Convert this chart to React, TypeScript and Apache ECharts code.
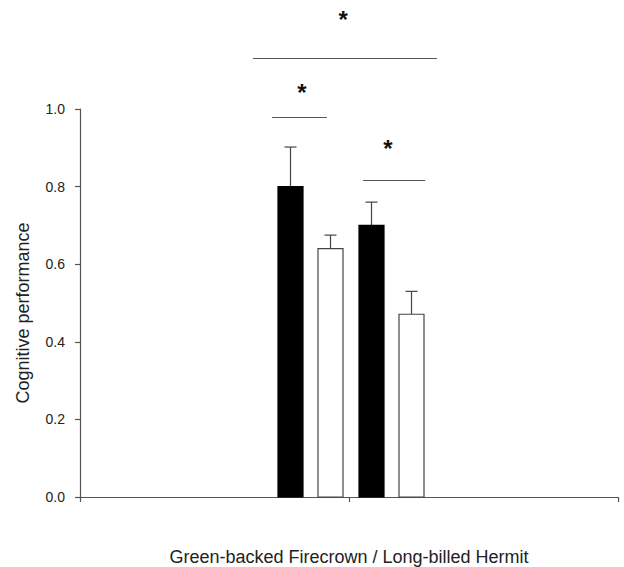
import React, { useEffect, useRef } from "react";
import * as echarts from "echarts";

const xAxisTitle = "Green-backed Firecrown / Long-billed Hermit";
const yAxisTitle = "Cognitive performance";
const yTickLabels = ["0.0", "0.2", "0.4", "0.6", "0.8", "1.0"];

const filledBarX = [0.78, 1.08];
const filledBarMean = [0.8, 0.7];
const filledBarErrTop = [0.902, 0.76];

const openBarX = [0.93, 1.23];
const openBarMean = [0.64, 0.471];
const openBarErrTop = [0.675, 0.53];

const sigStartX = [0.643, 0.714, 1.052];
const sigEndX = [1.327, 0.918, 1.283];
const sigLineY = [1.131, 0.979, 0.817];
const sigStarX = [0.978, 0.825, 1.145];
const sigStarY = [1.245, 1.057, 0.912];
const sigLabel = ["*", "*", "*"];

const FONT = "'Liberation Sans', Arial, Helvetica, sans-serif";
const BAR_W = 25;
const CAP_HALF = 6;
const LINE_COLOR = "#444";
const STAR_FS = 24;

function barRenderer(fill: string, stroke: string) {
  return (_params: any, api: any) => {
    const x = api.value(0);
    const y = api.value(1);
    const e = api.value(2);
    const base = api.coord([x, 0]);
    const top = api.coord([x, y]);
    const et = api.coord([x, e]);
    const cx = Math.round(base[0]) + 0.5;
    return {
      type: "group",
      children: [
        {
          type: "line",
          shape: { x1: cx, y1: top[1], x2: cx, y2: et[1] },
          style: { stroke: LINE_COLOR, lineWidth: 1.2 },
        },
        {
          type: "line",
          shape: { x1: cx - CAP_HALF, y1: et[1], x2: cx + CAP_HALF, y2: et[1] },
          style: { stroke: LINE_COLOR, lineWidth: 1.2 },
        },
        {
          type: "rect",
          shape: { x: cx - BAR_W / 2, y: top[1], width: BAR_W, height: base[1] - top[1] },
          style: { fill, stroke, lineWidth: 1.2 },
        },
      ],
    };
  };
}

export default function App() {
  const ref = useRef<HTMLDivElement>(null);

  useEffect(() => {
    if (!ref.current) return;
    const chart = echarts.init(ref.current, undefined, { renderer: "svg" });

    const filledData = filledBarX.map((x, i) => [x, filledBarMean[i], filledBarErrTop[i]]);
    const openData = openBarX.map((x, i) => [x, openBarMean[i], openBarErrTop[i]]);
    const sigData = sigStartX.map((x, i) => [x, sigLineY[i], sigEndX[i], sigStarX[i], sigStarY[i], i]);

    chart.setOption({
      animation: false,
      backgroundColor: "#ffffff",
      grid: {
        left: 80,
        right: 6,
        top: 109,
        bottom: 70,
        containLabel: false,
        outerBoundsMode: "none",
      },
      xAxis: {
        type: "value",
        min: 0,
        max: 2,
        interval: 1,
        axisLine: { show: true, lineStyle: { color: "#555", width: 1.2 } },
        axisTick: { show: true, inside: false, length: 5, lineStyle: { color: "#555", width: 1.2 } },
        axisLabel: { show: false },
        splitLine: { show: false },
      },
      yAxis: {
        type: "value",
        min: 0,
        max: 1,
        interval: 0.2,
        axisLine: { show: true, lineStyle: { color: "#555", width: 1.2 } },
        axisTick: { show: true, inside: false, length: 5, lineStyle: { color: "#555", width: 1.2 } },
        axisLabel: {
          margin: 15,
          fontSize: 14,
          fontFamily: FONT,
          color: "#222",
          formatter: (v: number) => yTickLabels[Math.round(v / 0.2)] ?? "",
        },
        splitLine: { show: false },
      },
      graphic: [
        {
          type: "text",
          x: 23,
          y: 313,
          rotation: Math.PI / 2,
          style: {
            text: yAxisTitle,
            fontSize: 18,
            fontFamily: FONT,
            fill: "#222",
            align: "center",
            verticalAlign: "middle",
          },
        },
        {
          type: "text",
          x: 349,
          y: 557,
          style: {
            text: xAxisTitle,
            fontSize: 18,
            fontFamily: FONT,
            fill: "#222",
            align: "center",
            verticalAlign: "middle",
          },
        },
      ],
      series: [
        {
          type: "custom",
          name: "filled",
          data: filledData,
          renderItem: barRenderer("#000000", "#000000"),
          clip: false,
          z: 2,
        },
        {
          type: "custom",
          name: "open",
          data: openData,
          renderItem: barRenderer("#ffffff", "#444444"),
          clip: false,
          z: 2,
        },
        {
          type: "custom",
          name: "significance",
          data: sigData,
          clip: false,
          z: 3,
          renderItem: (_params: any, api: any) => {
            const x1 = api.value(0);
            const y = api.value(1);
            const x2 = api.value(2);
            const sx = api.value(3);
            const sy = api.value(4);
            const idx = api.value(5);
            const p1 = api.coord([x1, y]);
            const p2 = api.coord([x2, y]);
            const ps = api.coord([sx, sy]);
            return {
              type: "group",
              children: [
                {
                  type: "line",
                  shape: { x1: p1[0], y1: Math.round(p1[1]) + 0.5, x2: p2[0], y2: Math.round(p1[1]) + 0.5 },
                  style: { stroke: "#555", lineWidth: 1.2 },
                },
                {
                  type: "text",
                  x: ps[0],
                  y: ps[1] + STAR_FS * 0.22,
                  style: {
                    text: sigLabel[idx],
                    fontSize: STAR_FS,
                    fontWeight: "bold",
                    fontFamily: FONT,
                    fill: "#111",
                    align: "center",
                    verticalAlign: "middle",
                  },
                },
              ],
            };
          },
        },
      ],
    });

    return () => {
      chart.dispose();
    };
  }, []);

  return (
    <div
      ref={ref}
      style={{ position: "absolute", left: 0, top: 0, width: 624, height: 567 }}
    />
  );
}
